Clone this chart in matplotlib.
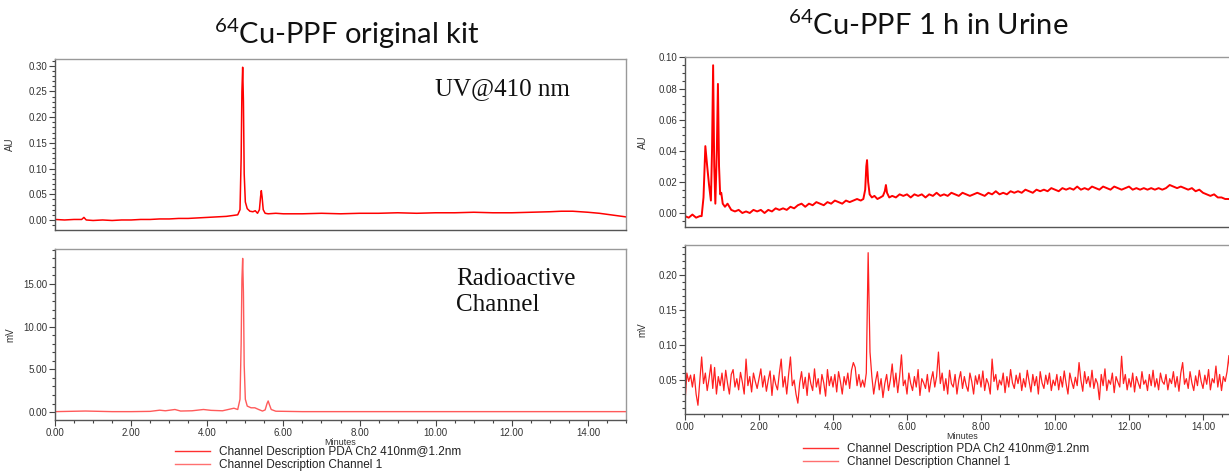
import matplotlib.pyplot as plt
import numpy as np
from matplotlib.lines import Line2D
from matplotlib.ticker import MultipleLocator, FormatStrFormatter

plt.rcParams['font.family'] = ['Liberation Sans', 'DejaVu Sans']
plt.rcParams['mathtext.fontset'] = 'custom'
plt.rcParams['mathtext.rm'] = 'Lato'

# ---- data (minutes vs signal) ----
# left, UV 410 nm, original kit
lt_t = [0.0, 0.25, 0.5, 0.7, 0.76, 0.82, 1.0, 1.25, 1.5, 1.75, 2.0, 2.25, 2.5, 2.75, 3.0,
        3.25, 3.5, 3.75, 4.0, 4.25, 4.5, 4.7, 4.8, 4.86, 4.89, 4.91, 4.93, 4.95, 4.97, 5.0,
        5.05, 5.12, 5.2, 5.26, 5.32, 5.37, 5.4, 5.42, 5.44, 5.47, 5.52, 5.6, 5.8, 6.0, 6.5,
        7.0, 7.5, 8.0, 8.5, 9.0, 9.5, 10.0, 10.5, 11.0, 11.5, 12.0, 12.5, 13.0, 13.3, 13.6,
        14.0, 14.3, 14.6, 15.0]
lt_v = [0.001, 0.000, 0.001, 0.001, 0.005, 0.000, -0.001, 0.000, -0.001, 0.000, 0.000, 0.001,
        0.001, 0.002, 0.002, 0.003, 0.003, 0.004, 0.005, 0.006, 0.007, 0.009, 0.010, 0.020,
        0.120, 0.250, 0.297, 0.230, 0.090, 0.035, 0.022, 0.017, 0.016, 0.018, 0.013, 0.020,
        0.045, 0.057, 0.045, 0.020, 0.013, 0.012, 0.013, 0.012, 0.012, 0.013, 0.012, 0.013,
        0.013, 0.014, 0.013, 0.014, 0.014, 0.015, 0.014, 0.014, 0.015, 0.016, 0.017, 0.017,
        0.015, 0.013, 0.010, 0.006]

# left, radioactive channel, original kit
lb_t = [0.0, 0.8, 1.5, 2.0, 2.5, 2.75, 2.9, 3.15, 3.3, 3.6, 3.9, 4.1, 4.4, 4.7, 4.8, 4.86,
        4.89, 4.91, 4.93, 4.95, 4.97, 5.0, 5.05, 5.15, 5.25, 5.35, 5.45, 5.52, 5.57, 5.6,
        5.63, 5.68, 5.8, 6.5, 7.5, 9.0, 10.5, 12.0, 13.5, 15.0]
lb_v = [0.05, 0.12, 0.05, 0.05, 0.08, 0.22, 0.15, 0.3, 0.12, 0.15, 0.3, 0.2, 0.15, 0.45, 0.3,
        1.5, 8.0, 15.5, 18.0, 14.0, 5.5, 1.5, 0.7, 0.5, 0.5, 0.3, 0.12, 0.25, 1.0, 1.3, 0.9,
        0.3, 0.1, 0.05, 0.05, 0.05, 0.05, 0.05, 0.05, 0.05]

# right, UV 410 nm, 1 h in urine
rt_t = [0.0, 0.1, 0.2, 0.3, 0.4, 0.45, 0.5, 0.55, 0.6, 0.65, 0.7, 0.73, 0.76, 0.79, 0.82,
        0.86, 0.89, 0.92, 0.95, 0.98, 1.02, 1.08, 1.15, 1.25, 1.35, 1.45, 1.55, 1.65, 1.75,
        1.85, 1.95, 2.05, 2.15, 2.25, 2.35, 2.45, 2.55, 2.65, 2.75, 2.85, 2.95, 3.05, 3.15,
        3.25, 3.35, 3.45, 3.55, 3.65, 3.75, 3.85, 3.95, 4.05, 4.15, 4.25, 4.35, 4.45, 4.55,
        4.65, 4.75, 4.82, 4.87, 4.9, 4.92, 4.95, 4.99, 5.05, 5.12, 5.2, 5.28, 5.35, 5.4,
        5.43, 5.46, 5.52, 5.6, 5.7, 5.8, 5.9, 6.0, 6.1, 6.2, 6.3, 6.4, 6.5, 6.6, 6.7, 6.8,
        6.9, 7.0, 7.1, 7.2, 7.3, 7.4, 7.5, 7.6, 7.7, 7.8, 7.9, 8.0, 8.1, 8.2, 8.3, 8.4, 8.5,
        8.6, 8.7, 8.8, 8.9, 9.0, 9.1, 9.2, 9.3, 9.4, 9.5, 9.6, 9.7, 9.8, 9.9, 10.0, 10.1,
        10.2, 10.3, 10.4, 10.5, 10.6, 10.7, 10.8, 10.9, 11.0, 11.1, 11.2, 11.3, 11.4, 11.5,
        11.6, 11.7, 11.8, 11.9, 12.0, 12.1, 12.2, 12.3, 12.4, 12.5, 12.6, 12.7, 12.8, 12.9,
        13.0, 13.1, 13.2, 13.3, 13.4, 13.5, 13.6, 13.7, 13.8, 13.9, 14.0, 14.1, 14.2, 14.3,
        14.4, 14.5, 14.6, 14.7, 14.8, 14.9, 15.0]
rt_v = [-0.002, -0.003, -0.001, -0.003, -0.002, -0.002, 0.010, 0.043, 0.030, 0.018, 0.008,
        0.040, 0.095, 0.030, 0.006, 0.040, 0.083, 0.030, 0.012, 0.013, 0.006, 0.004, 0.006,
        0.002, 0.001, 0.002, 0.000, 0.001, 0.000, 0.002, 0.001, 0.002, 0.000, 0.002, 0.001,
        0.003, 0.002, 0.003, 0.002, 0.004, 0.003, 0.005, 0.006, 0.004, 0.006, 0.005, 0.007,
        0.006, 0.005, 0.007, 0.006, 0.008, 0.007, 0.006, 0.008, 0.007, 0.008, 0.009, 0.008,
        0.009, 0.015, 0.030, 0.034, 0.020, 0.012, 0.010, 0.011, 0.009, 0.010, 0.011, 0.014,
        0.018, 0.013, 0.010, 0.011, 0.010, 0.012, 0.011, 0.012, 0.010, 0.012, 0.011, 0.012,
        0.010, 0.012, 0.011, 0.013, 0.011, 0.012, 0.011, 0.013, 0.012, 0.011, 0.013, 0.012,
        0.011, 0.012, 0.013, 0.012, 0.011, 0.013, 0.012, 0.014, 0.012, 0.013, 0.012, 0.014,
        0.013, 0.014, 0.013, 0.015, 0.014, 0.013, 0.015, 0.014, 0.015, 0.014, 0.016, 0.015,
        0.014, 0.016, 0.015, 0.016, 0.015, 0.017, 0.015, 0.016, 0.015, 0.017, 0.016, 0.015,
        0.017, 0.016, 0.015, 0.017, 0.016, 0.015, 0.016, 0.017, 0.015, 0.016, 0.015, 0.016,
        0.015, 0.016, 0.015, 0.016, 0.015, 0.016, 0.018, 0.017, 0.016, 0.017, 0.016, 0.015,
        0.016, 0.014, 0.015, 0.013, 0.012, 0.011, 0.012, 0.010, 0.010, 0.009, 0.009, 0.008,
        0.008, 0.008]

# right, radioactive channel, 1 h in urine (sampled every 0.05 min)
rb_step = 0.05
rb_v = [0.018, 0.060, 0.048, 0.057, 0.040, 0.058, 0.030, 0.014, 0.048, 0.083, 0.045, 0.060, 0.035, 0.052, 0.072, 0.038, 0.068, 0.030, 0.055, 0.042,
        0.060, 0.035, 0.064, 0.045, 0.030, 0.058, 0.065, 0.040, 0.052, 0.036, 0.061, 0.047, 0.030, 0.080, 0.042, 0.055, 0.033, 0.060, 0.048, 0.038,
        0.052, 0.066, 0.040, 0.056, 0.034, 0.050, 0.063, 0.028, 0.057, 0.044, 0.036, 0.060, 0.080, 0.040, 0.055, 0.030, 0.058, 0.083, 0.042, 0.050,
        0.030, 0.017, 0.046, 0.062, 0.038, 0.054, 0.028, 0.060, 0.045, 0.035, 0.066, 0.040, 0.052, 0.030, 0.058, 0.046, 0.027, 0.065, 0.042, 0.055,
        0.040, 0.058, 0.033, 0.062, 0.048, 0.030, 0.055, 0.043, 0.060, 0.038, 0.064, 0.075, 0.068, 0.042, 0.058, 0.040, 0.050, 0.040, 0.060, 0.232,
        0.090, 0.055, 0.030, 0.048, 0.062, 0.036, 0.052, 0.025, 0.045, 0.058, 0.035, 0.050, 0.073, 0.040, 0.060, 0.032, 0.055, 0.086, 0.042, 0.050,
        0.030, 0.060, 0.045, 0.035, 0.055, 0.040, 0.065, 0.028, 0.052, 0.046, 0.038, 0.058, 0.033, 0.050, 0.062, 0.040, 0.055, 0.090, 0.045, 0.060,
        0.035, 0.052, 0.030, 0.064, 0.045, 0.040, 0.058, 0.030, 0.050, 0.062, 0.038, 0.055, 0.042, 0.034, 0.060, 0.048, 0.030, 0.056, 0.044, 0.058,
        0.040, 0.063, 0.035, 0.052, 0.045, 0.030, 0.080, 0.048, 0.058, 0.036, 0.050, 0.043, 0.060, 0.032, 0.055, 0.040, 0.065, 0.046, 0.038, 0.057,
        0.045, 0.060, 0.035, 0.052, 0.040, 0.064, 0.048, 0.033, 0.058, 0.042, 0.055, 0.030, 0.062, 0.046, 0.038, 0.057, 0.044, 0.060, 0.035, 0.050,
        0.042, 0.058, 0.036, 0.055, 0.040, 0.063, 0.045, 0.030, 0.060, 0.048, 0.038, 0.054, 0.042, 0.075, 0.050, 0.034, 0.062, 0.045, 0.055, 0.040,
        0.064, 0.038, 0.052, 0.045, 0.022, 0.058, 0.042, 0.066, 0.035, 0.050, 0.044, 0.060, 0.032, 0.055, 0.047, 0.040, 0.084, 0.045, 0.058, 0.036,
        0.052, 0.040, 0.060, 0.033, 0.055, 0.046, 0.038, 0.062, 0.044, 0.050, 0.035, 0.058, 0.042, 0.064, 0.040, 0.052, 0.036, 0.060, 0.048, 0.044,
        0.058, 0.036, 0.052, 0.045, 0.062, 0.040, 0.055, 0.034, 0.060, 0.075, 0.044, 0.052, 0.038, 0.062, 0.046, 0.035, 0.056, 0.042, 0.064, 0.048,
        0.038, 0.057, 0.044, 0.065, 0.036, 0.052, 0.046, 0.070, 0.040, 0.058, 0.035, 0.055, 0.048, 0.062, 0.085, 0.042, 0.056, 0.038, 0.060, 0.046,
        0.050]
rb_t = np.arange(len(rb_v)) * rb_step

legend_labels = ['Channel Description PDA Ch2 410nm@1.2nm', 'Channel Description Channel 1']
titles = [r'$\mathregular{^{64}}$Cu-PPF original kit', r'$\mathregular{^{64}}$Cu-PPF 1 h in Urine']

W, H = 1229, 472


def box(x0, y0, x1, y1):
    # pixel box (top-left origin) -> figure fraction rect
    return [x0 / W, 1 - y1 / H, (x1 - x0) / W, (y1 - y0) / H]


def style(ax, ylim, major, minor, ylabel, show_x):
    ax.set_xlim(0, 15)
    ax.set_ylim(*ylim)
    ax.yaxis.set_major_locator(MultipleLocator(major))
    ax.yaxis.set_minor_locator(MultipleLocator(minor))
    ax.yaxis.set_major_formatter(FormatStrFormatter('%.2f'))
    ax.xaxis.set_major_locator(MultipleLocator(2))
    ax.xaxis.set_minor_locator(MultipleLocator(0.5))
    ax.xaxis.set_major_formatter(FormatStrFormatter('%.2f'))
    ax.tick_params(which='both', direction='out', color='#444444', width=0.8,
                   labelsize=7, labelcolor='#333333', pad=1.5)
    ax.tick_params(which='major', length=4)
    ax.tick_params(which='minor', length=2)
    if not show_x:
        ax.tick_params(axis='x', which='both', bottom=False, labelbottom=False)
    else:
        ax.set_xlabel('Minutes', fontsize=6.5, color='#333333', labelpad=0)
    for s in ['left', 'bottom']:
        ax.spines[s].set_color('#555555')
        ax.spines[s].set_linewidth(1.0)
    for s in ['top', 'right']:
        ax.spines[s].set_color('#999999')
        ax.spines[s].set_linewidth(1.0)
    ax.set_ylabel(ylabel, fontsize=7, color='#333333')


fig = plt.figure(figsize=(12.29, 4.72), dpi=100)

ax1 = fig.add_axes(box(55, 59, 626, 230))
ax2 = fig.add_axes(box(55, 249, 626, 420))
ax3 = fig.add_axes(box(685, 57, 1240, 227))
ax4 = fig.add_axes(box(685, 245, 1240, 414))

ax1.plot(lt_t, lt_v, color='#ff0000', lw=1.1)
ax2.plot(lb_t, lb_v, color='#ff5a5a', lw=1.0)
ax3.plot(rt_t, rt_v, color='#ff0000', lw=1.4)
ax4.plot(rb_t, rb_v, color='#ff2020', lw=0.9)

style(ax1, (-0.0195, 0.313), 0.05, 0.01, 'AU', False)
style(ax2, (-0.93, 19.1), 5, 1, 'mV', True)
style(ax3, (-0.009, 0.1003), 0.02, 0.005, 'AU', False)
style(ax4, (0.0015, 0.243), 0.05, 0.01, 'mV', True)

ax1.yaxis.set_label_coords(-0.07, 0.5)
ax2.yaxis.set_label_coords(-0.07, 0.5)
ax3.yaxis.set_label_coords(-0.067, 0.5)
ax4.yaxis.set_label_coords(-0.067, 0.5)

# titles
fig.text(347 / W, 1 - 44 / H, titles[0], fontsize=21, ha='center', va='baseline',
         family='Lato', color='#111111')
fig.text(928 / W, 1 - 35 / H, titles[1], fontsize=21, ha='center', va='baseline',
         family='Lato', color='#111111')

# panel annotations
fig.text(435 / W, 1 - 95 / H, 'UV@410 nm', fontsize=18, family='Liberation Serif',
         va='baseline', color='#111111')
fig.text(456 / W, 1 - 285 / H, 'Radioactive', fontsize=18, family='Liberation Serif',
         va='baseline', color='#111111')
fig.text(456 / W, 1 - 311 / H, 'Channel', fontsize=18, family='Liberation Serif',
         va='baseline', color='#111111')

# legends under each chromatogram
handles = [Line2D([], [], color='#ff3030', lw=1.0), Line2D([], [], color='#ff7070', lw=1.0)]
leg_kw = dict(frameon=False, fontsize=8.5, handlelength=3.0, handletextpad=0.7,
              labelspacing=0.1, borderpad=0, borderaxespad=0, labelcolor='#222222')
fig.legend(handles, legend_labels, loc='upper left',
           bbox_to_anchor=(175 / W, 1 - 446 / H), **leg_kw)
fig.legend(handles, legend_labels, loc='upper left',
           bbox_to_anchor=(803 / W, 1 - 443 / H), **leg_kw)

fig.savefig('out.png', dpi=100)
